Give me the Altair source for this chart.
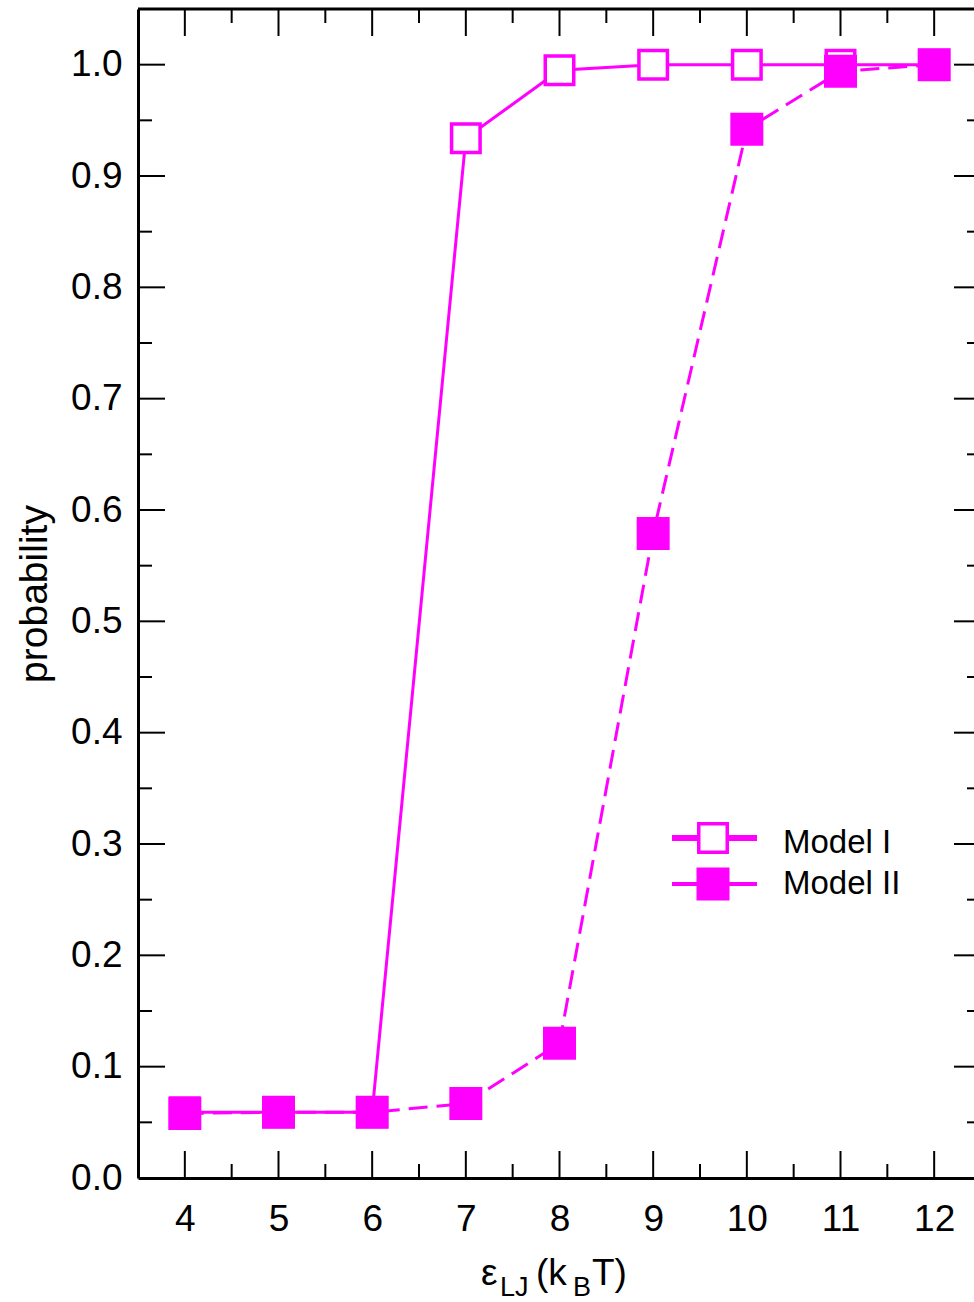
import altair as alt
import pandas as pd

# ---- data ----
eps = [4, 5, 6, 7, 8, 9, 10, 11, 12]
model_1 = [0.059, 0.059, 0.059, 0.934, 0.995, 1.000, 1.000, 1.000, 1.000]
model_2 = [0.058, 0.059, 0.059, 0.067, 0.121, 0.579, 0.942, 0.994, 1.000]

x_major = [4, 5, 6, 7, 8, 9, 10, 11, 12]
x_minor = [4.5, 5.5, 6.5, 7.5, 8.5, 9.5, 10.5, 11.5]
y_major = [0.1, 0.2, 0.3, 0.4, 0.5, 0.6, 0.7, 0.8, 0.9, 1.0]
y_minor = [0.05, 0.15, 0.25, 0.35, 0.45, 0.55, 0.65, 0.75, 0.85, 0.95]
y_labels = [0.0, 0.1, 0.2, 0.3, 0.4, 0.5, 0.6, 0.7, 0.8, 0.9, 1.0]

MAG = "#ff00ff"
FONT = "Liberation Sans"
W, H = 836, 1169

df1 = pd.DataFrame({"x": eps, "p": model_1})
df2 = pd.DataFrame({"x": eps, "p": model_2})
one = pd.DataFrame({"t": [""]})

xscale = alt.Scale(domain=[3.5, 12.5], range=[0, 843], nice=False, zero=False)
yscale = alt.Scale(domain=[0, 1.05], nice=False, zero=False)

xaxis = alt.Axis(values=x_major, format="d", title=None, ticks=False, tickSize=0,
                 grid=False, domainColor="black", domainWidth=3, labelFont=FONT,
                 labelFontSize=37, labelColor="black", labelPadding=23,
                 labelFlush=False, labelOverlap=False)
yaxis = alt.Axis(values=y_labels, format=".1f", title=None, ticks=False, tickSize=0,
                 grid=False, domainColor="black", domainWidth=3, labelFont=FONT,
                 labelFontSize=37, labelColor="black", labelPadding=16,
                 labelFlush=False, labelOverlap=False)

X = lambda f: alt.X(f, type="quantitative", scale=xscale, axis=xaxis)
Y = lambda f: alt.Y(f, type="quantitative", scale=yscale, axis=yaxis)

line1 = alt.Chart(df1).mark_line(color=MAG, strokeWidth=3).encode(x=X("x"), y=Y("p"))
line2 = alt.Chart(df2).mark_line(color=MAG, strokeWidth=3, strokeDash=[19, 9]).encode(x=X("x"), y=Y("p"))
pts1 = alt.Chart(df1).mark_square(filled=True, fill="white", stroke=MAG, strokeWidth=3.5,
                                  size=812, opacity=1).encode(x=X("x"), y=Y("p"))
pts2 = alt.Chart(df2).mark_square(filled=True, color=MAG, size=1089, opacity=1).encode(x=X("x"), y=Y("p"))

def xt(vals, top, length):
    d = pd.DataFrame({"v": vals})
    if top:
        y0, y1 = 0, length
    else:
        y0, y1 = H, H - length
    return alt.Chart(d).mark_rule(color="black", strokeWidth=2).encode(
        x=X("v"), y=alt.value(y0), y2=alt.value(y1))

def yt(vals, right, length):
    d = pd.DataFrame({"v": vals})
    if right:
        x0, x1 = 843, 843 - length
    else:
        x0, x1 = 0, length
    return alt.Chart(d).mark_rule(color="black", strokeWidth=2).encode(
        y=Y("v"), x=alt.value(x0), x2=alt.value(x1))

ticks = [xt(x_major, False, 27), xt(x_minor, False, 14), xt(x_major, True, 27), xt(x_minor, True, 14),
         yt(y_major, False, 27), yt(y_minor, False, 14), yt(y_major, True, 27), yt(y_minor, True, 14)]

top_line = alt.Chart(one).mark_rule(color="black", strokeWidth=3).encode(
    x=alt.value(0), x2=alt.value(843), y=alt.value(0))

def txt(s, x, y, size, **kw):
    return alt.Chart(pd.DataFrame({"t": [s]})).mark_text(
        font=FONT, fontSize=size, color="black", align=kw.get("align", "left"),
        baseline=kw.get("baseline", "alphabetic"), angle=kw.get("angle", 0)).encode(
        x=alt.value(x), y=alt.value(y), text="t:N")

xtitle = [txt("ε", 343, 1276, 37), txt("LJ", 362, 1287, 27), txt("(k", 398, 1276, 37),
          txt("B", 435, 1287, 27), txt("T)", 454, 1276, 37)]
ytitle = txt("probability", -103, 585, 39, align="center", baseline="middle", angle=270)

# legend
leg = [
    alt.Chart(one).mark_rule(color=MAG, strokeWidth=6).encode(x=alt.value(534), x2=alt.value(619), y=alt.value(829)),
    alt.Chart(one).mark_square(filled=True, fill="white", stroke=MAG, strokeWidth=3.5, size=812, opacity=1).encode(
        x=alt.value(575), y=alt.value(829)),
    alt.Chart(one).mark_rule(color=MAG, strokeWidth=4).encode(x=alt.value(534), x2=alt.value(619), y=alt.value(875)),
    alt.Chart(one).mark_square(filled=True, color=MAG, size=1089, opacity=1).encode(
        x=alt.value(575), y=alt.value(875)),
    txt("Model I", 645, 844, 33),
    txt("Model II", 645, 885, 33),
]

chart = alt.layer(line1, line2, pts1, pts2, *ticks, top_line, *xtitle, ytitle, *leg).properties(
    width=W, height=H,
    autosize=alt.AutoSizeParams(type="none"),
    padding={"left": 138, "top": 9, "right": 0, "bottom": 1302 - 9 - H},
    background="white",
).configure_view(stroke=None)

chart.save("out.html", embed_options={"renderer": "svg", "actions": False})
